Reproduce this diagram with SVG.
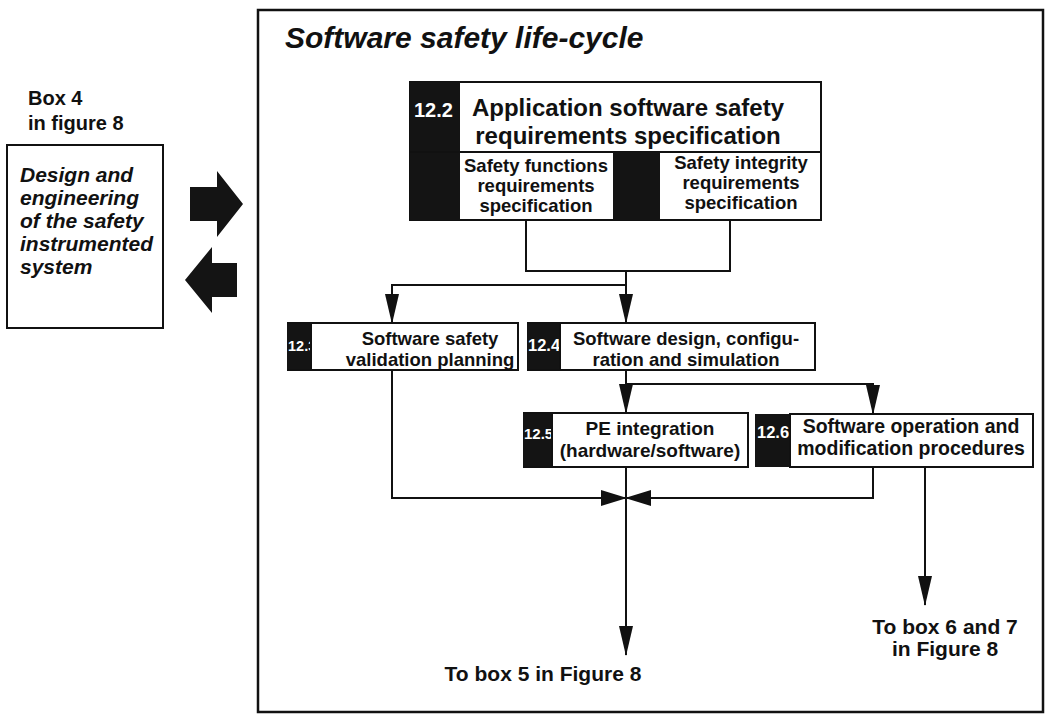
<svg xmlns="http://www.w3.org/2000/svg" width="1050" height="714" viewBox="0 0 1050 714">
<defs>
<style>
.t{font-family:"Liberation Sans",Arial,sans-serif;font-weight:bold;fill:#111}
.n{font-family:"Liberation Sans",Arial,sans-serif;font-weight:bold;fill:#fff}
.box{fill:#fff;stroke:#111;stroke-width:2}
.dk{fill:#141414}
.ln{fill:none;stroke:#111;stroke-width:2}
</style>
<marker id="ah" viewBox="0 0 30 14" refX="29" refY="7" markerWidth="30" markerHeight="14" markerUnits="userSpaceOnUse" orient="auto">
<path d="M0,0 L30,7 L0,14 Z" fill="#111"/>
</marker>
<marker id="ah2" viewBox="0 0 26 16" refX="25" refY="8" markerWidth="26" markerHeight="16" markerUnits="userSpaceOnUse" orient="auto">
<path d="M0,0 L26,8 L0,16 Z" fill="#111"/>
</marker>
</defs>
<rect width="1050" height="714" fill="#fff"/>
<g id="frame">
<rect x="258" y="10" width="785" height="702" fill="none" stroke="#111" stroke-width="2.5"/>
<text class="t" x="285" y="48" font-size="30" font-style="italic">Software safety life-cycle</text>
</g>
<g id="box4">
<text class="t" x="28" y="105" font-size="20">Box 4</text>
<text class="t" x="28" y="130" font-size="20">in figure 8</text>
<rect class="box" x="7" y="145" width="156" height="183"/>
<text class="t" font-size="21" font-style="italic">
<tspan x="20" y="182">Design and</tspan>
<tspan x="20" y="205">engineering</tspan>
<tspan x="20" y="228">of the safety</tspan>
<tspan x="20" y="251">instrumented</tspan>
<tspan x="20" y="274">system</tspan>
</text>
</g>
<g id="bigarrows">
<polygon class="dk" points="190,187 217,187 217,171 243,204 217,237 217,221 190,221"/>
<polygon class="dk" points="237,263 212,263 212,247 185,280 212,313 212,297 237,297"/>
</g>
<g id="n122">
<rect class="box" x="410" y="82" width="411" height="138"/>
<rect class="dk" x="410" y="82" width="50" height="138"/>
<text class="n" x="414" y="117" font-size="20">12.2</text>
<line x1="410" y1="152" x2="821" y2="152" stroke="#111" stroke-width="2"/>
<text class="t" font-size="24" text-anchor="middle"><tspan x="628" y="116">Application software safety</tspan><tspan x="628" y="144">requirements specification</tspan></text>
<rect class="dk" x="613" y="152" width="47" height="68"/>
<text class="t" font-size="18.5" text-anchor="middle"><tspan x="536" y="172">Safety functions</tspan><tspan x="536" y="192">requirements</tspan><tspan x="536" y="212">specification</tspan></text>
<text class="t" font-size="18.5" text-anchor="middle"><tspan x="741" y="169">Safety integrity</tspan><tspan x="741" y="189">requirements</tspan><tspan x="741" y="209">specification</tspan></text>
</g>
<g id="n123">
<rect class="dk" x="287" y="323" width="26" height="47"/>
<text class="n" x="288" y="351" font-size="14.5">12.3</text>
<rect class="box" x="311" y="323" width="207" height="47"/>
<line x1="287" y1="323" x2="311" y2="323" stroke="#111" stroke-width="2"/>
<line x1="287" y1="370" x2="311" y2="370" stroke="#111" stroke-width="2"/>
<text class="t" font-size="18.5" text-anchor="middle"><tspan x="430" y="345">Software safety</tspan><tspan x="430" y="366">validation planning</tspan></text>
</g>
<g id="n124">
<rect class="dk" x="527" y="323" width="35" height="47"/>
<text class="n" x="528" y="351" font-size="16.5">12.4</text>
<rect class="box" x="560" y="323" width="255" height="47"/>
<line x1="527" y1="323" x2="560" y2="323" stroke="#111" stroke-width="2"/>
<line x1="527" y1="370" x2="560" y2="370" stroke="#111" stroke-width="2"/>
<text class="t" font-size="18.5" text-anchor="middle"><tspan x="686" y="345">Software design, configu-</tspan><tspan x="686" y="366">ration and simulation</tspan></text>
</g>
<g id="n125">
<rect class="dk" x="523" y="413" width="31" height="54"/>
<text class="n" x="524" y="439" font-size="15">12.5</text>
<rect class="box" x="552" y="413" width="196" height="54"/>
<line x1="523" y1="413" x2="552" y2="413" stroke="#111" stroke-width="2"/>
<line x1="523" y1="467" x2="552" y2="467" stroke="#111" stroke-width="2"/>
<text class="t" font-size="19" text-anchor="middle"><tspan x="650" y="435">PE integration</tspan><tspan x="650" y="457">(hardware/software)</tspan></text>
</g>
<g id="n126">
<rect class="dk" x="755" y="414" width="37" height="53"/>
<text class="n" x="757" y="438" font-size="16.5">12.6</text>
<rect class="box" x="790" y="414" width="243" height="53"/>
<text class="t" font-size="19.5" text-anchor="middle"><tspan x="911" y="433">Software operation and</tspan><tspan x="911" y="455">modification procedures</tspan></text>
</g>
<g id="outputs">
<text class="t" x="543" y="681" font-size="21" text-anchor="middle">To box 5 in Figure 8</text>
<text class="t" font-size="21" text-anchor="middle"><tspan x="945" y="634">To box 6 and 7</tspan><tspan x="945" y="656">in Figure 8</tspan></text>
</g>
<g id="connectors">
<path class="ln" d="M526,220 V271 H730 V220"/>
<path class="ln" d="M626,271 V323" marker-end="url(#ah)"/>
<path class="ln" d="M626,285 H392 V323" marker-end="url(#ah)"/>
<path class="ln" d="M626,370 V413" marker-end="url(#ah)"/>
<path class="ln" d="M626,384 H873 V414" marker-end="url(#ah)"/>
<path class="ln" d="M392,370 V498 H626" marker-end="url(#ah2)"/>
<path class="ln" d="M873,467 V498 H626" marker-end="url(#ah2)"/>
<path class="ln" d="M626,467 V655" marker-end="url(#ah)"/>
<path class="ln" d="M925,467 V605" marker-end="url(#ah)"/>
</g>
</svg>
